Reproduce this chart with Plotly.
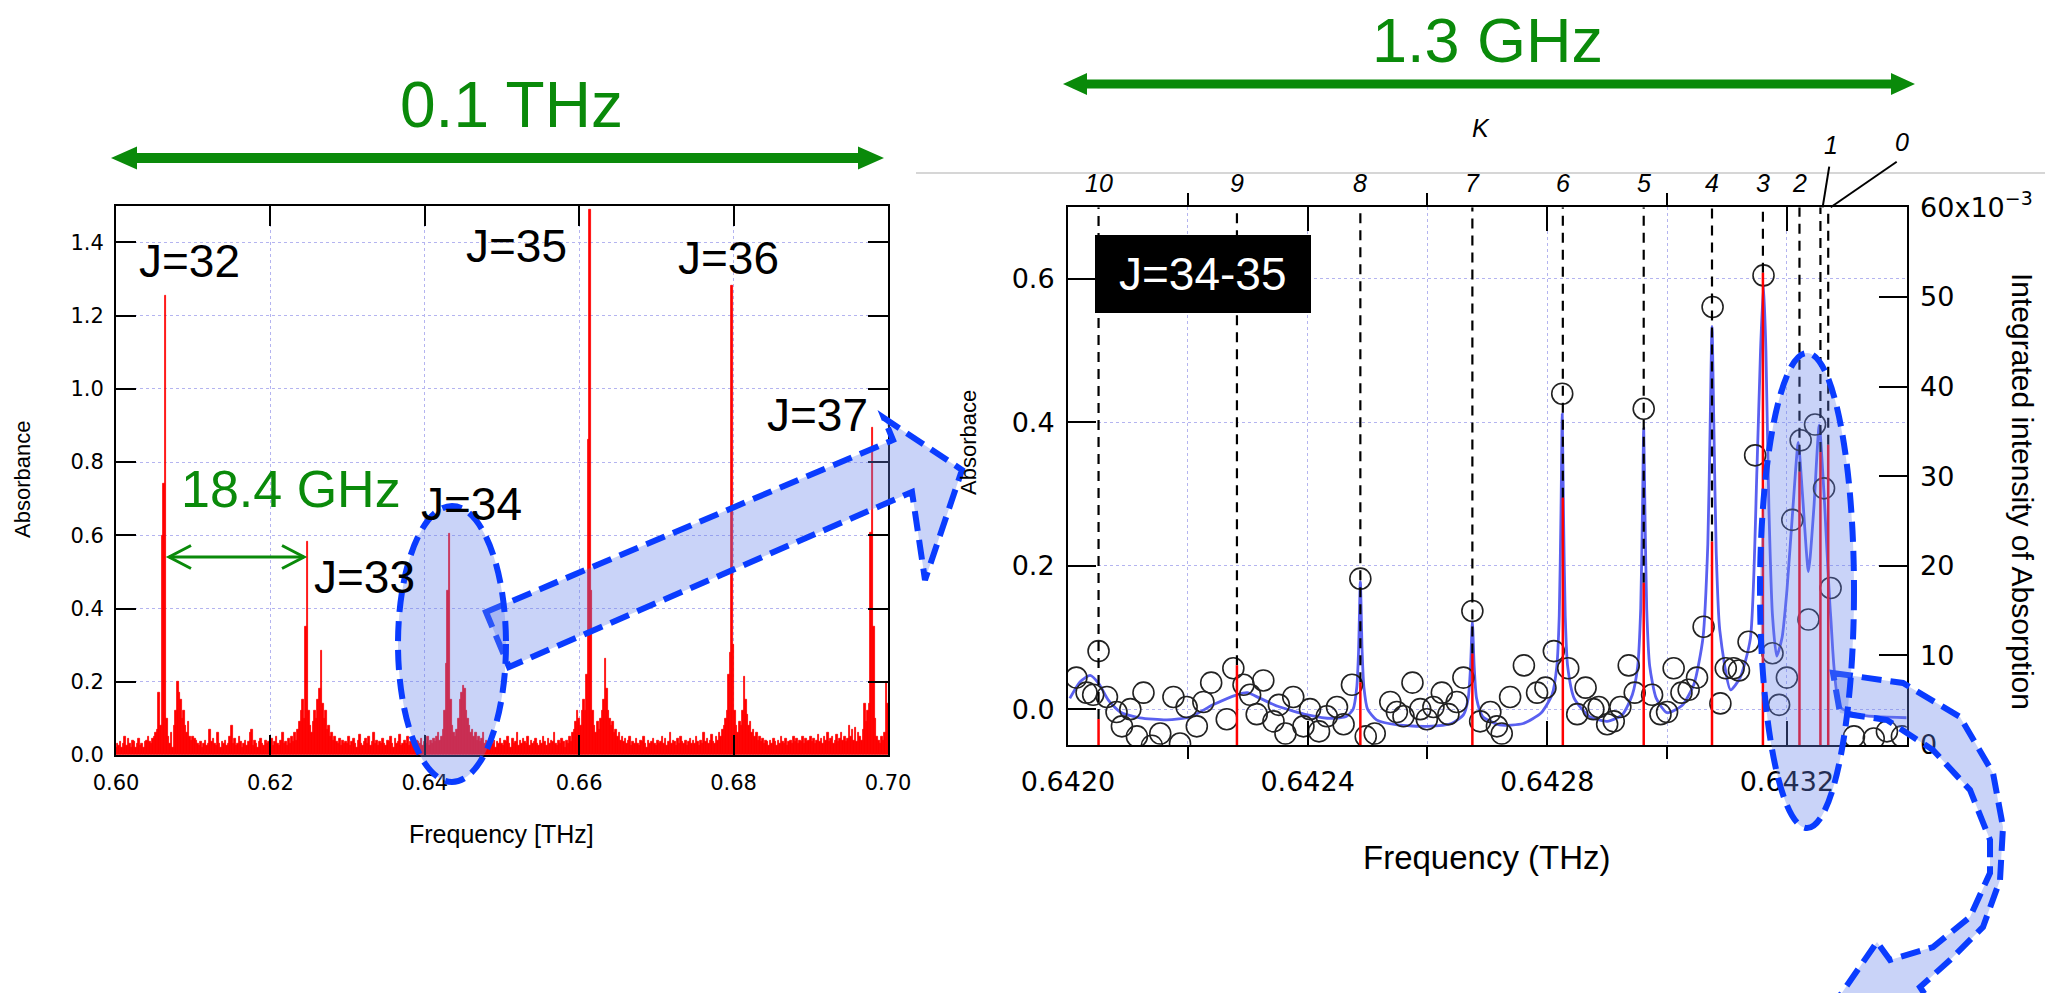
import plotly.graph_objects as go

W, H = 2045, 993

# ---------------- left panel: absorbance spectrum 0.60-0.70 THz ----------------
spec_start = 0.600
spec_step = 0.0002
spec_abs = [
    0.02, 0.03, 0.025, 0.035, 0.02, 0.03, 0.05, 0.025, 0.045, 0.03, 0.02, 0.04, 0.035, 0.02, 0.03, 0.045, 0.025, 0.03, 0.02, 0.035, 0.04, 0.05, 0.035, 0.03, 0.045,
    0.05, 0.06, 0.07, 0.17, 0.08, 0.60, 0.74, 1.255, 0.10, 0.05, 0.03, 0.06, 0.02, 0.08, 0.12, 0.20, 0.17, 0.15, 0.10, 0.12, 0.08, 0.06, 0.09, 0.05, 0.04,
    0.05, 0.045, 0.04, 0.03, 0.025, 0.035, 0.02, 0.03, 0.04, 0.025, 0.03, 0.07, 0.035, 0.045, 0.03, 0.025, 0.06, 0.03, 0.02, 0.035, 0.03, 0.04, 0.025, 0.03, 0.05,
    0.08, 0.03, 0.045, 0.025, 0.03, 0.05, 0.035, 0.02, 0.03, 0.04, 0.025, 0.035, 0.06, 0.07, 0.025, 0.04, 0.03, 0.02, 0.035, 0.045, 0.03, 0.025, 0.04, 0.03, 0.035,
    0.03, 0.045, 0.025, 0.035, 0.05, 0.03, 0.025, 0.04, 0.06, 0.03, 0.035, 0.025, 0.045, 0.03, 0.05, 0.035, 0.06, 0.04, 0.07, 0.09, 0.12, 0.15, 0.10, 0.35, 0.583,
    0.12, 0.08, 0.06, 0.09, 0.12, 0.10, 0.15, 0.18, 0.284, 0.14, 0.10, 0.12, 0.07, 0.08, 0.05, 0.06, 0.04, 0.05, 0.035, 0.03, 0.045, 0.025, 0.04, 0.03, 0.035,
    0.03, 0.05, 0.025, 0.035, 0.045, 0.03, 0.02, 0.04, 0.055, 0.03, 0.025, 0.035, 0.045, 0.03, 0.05, 0.025, 0.035, 0.06, 0.03, 0.04, 0.025, 0.035, 0.03, 0.045, 0.03,
    0.025, 0.04, 0.035, 0.05, 0.03, 0.02, 0.045, 0.03, 0.035, 0.055, 0.025, 0.03, 0.04, 0.03, 0.05, 0.025, 0.035, 0.045, 0.03, 0.02, 0.04, 0.035, 0.03, 0.045, 0.025,
    0.035, 0.03, 0.05, 0.025, 0.04, 0.03, 0.045, 0.035, 0.05, 0.06, 0.04, 0.05, 0.07, 0.12, 0.25, 0.45, 0.605, 0.15, 0.08, 0.06, 0.05, 0.07, 0.10, 0.15, 0.17,
    0.19, 0.18, 0.12, 0.10, 0.08, 0.06, 0.07, 0.05, 0.06, 0.04, 0.05, 0.035, 0.045, 0.06, 0.03, 0.04, 0.035, 0.025, 0.045, 0.03, 0.04, 0.02, 0.035, 0.03, 0.045,
    0.03, 0.025, 0.04, 0.035, 0.05, 0.03, 0.02, 0.045, 0.03, 0.035, 0.06, 0.025, 0.04, 0.03, 0.045, 0.035, 0.03, 0.05, 0.025, 0.04, 0.03, 0.035, 0.045, 0.03, 0.025,
    0.04, 0.03, 0.05, 0.035, 0.025, 0.045, 0.03, 0.04, 0.035, 0.06, 0.03, 0.025, 0.04, 0.03, 0.045, 0.035, 0.02, 0.04, 0.03, 0.05, 0.035, 0.06, 0.07, 0.09, 0.12,
    0.10, 0.08, 0.12, 0.15, 0.12, 0.22, 0.86, 1.488, 0.45, 0.12, 0.08, 0.06, 0.09, 0.07, 0.10, 0.12, 0.15, 0.264, 0.18, 0.12, 0.10, 0.08, 0.09, 0.06, 0.07,
    0.05, 0.06, 0.04, 0.05, 0.035, 0.045, 0.03, 0.04, 0.05, 0.025, 0.035, 0.03, 0.045, 0.03, 0.025, 0.04, 0.035, 0.05, 0.03, 0.02, 0.04, 0.03, 0.035, 0.045, 0.03,
    0.025, 0.04, 0.03, 0.035, 0.05, 0.03, 0.045, 0.025, 0.035, 0.06, 0.03, 0.04, 0.035, 0.025, 0.045, 0.03, 0.05, 0.035, 0.03, 0.04, 0.025, 0.035, 0.045, 0.03, 0.04,
    0.03, 0.05, 0.035, 0.025, 0.04, 0.03, 0.06, 0.035, 0.045, 0.03, 0.04, 0.055, 0.035, 0.03, 0.05, 0.04, 0.06, 0.05, 0.07, 0.08, 0.10, 0.12, 0.22, 0.28, 1.281,
    0.30, 0.12, 0.08, 0.06, 0.09, 0.08, 0.12, 0.214, 0.15, 0.11, 0.08, 0.09, 0.06, 0.07, 0.05, 0.06, 0.04, 0.05, 0.035, 0.045, 0.03, 0.04, 0.035, 0.025, 0.04,
    0.03, 0.045, 0.035, 0.025, 0.04, 0.03, 0.05, 0.035, 0.03, 0.045, 0.025, 0.035, 0.04, 0.03, 0.05, 0.035, 0.045, 0.03, 0.04, 0.035, 0.05, 0.03, 0.045, 0.035, 0.04,
    0.05, 0.035, 0.045, 0.03, 0.04, 0.055, 0.035, 0.045, 0.03, 0.05, 0.04, 0.06, 0.035, 0.045, 0.05, 0.03, 0.04, 0.055, 0.035, 0.045, 0.06, 0.04, 0.05, 0.035, 0.045,
    0.08, 0.05, 0.07, 0.04, 0.075, 0.035, 0.06, 0.05, 0.04, 0.07, 0.14, 0.09, 0.12, 0.14, 0.606, 0.894, 0.35, 0.10, 0.05, 0.04, 0.03, 0.05, 0.04, 0.06, 0.20,
    0.14,
]
spec_freq = [round(spec_start + i * spec_step, 5) for i in range(len(spec_abs))]

left_xticks = [0.60, 0.62, 0.64, 0.66, 0.68, 0.70]
left_yticks = [0.0, 0.2, 0.4, 0.6, 0.8, 1.0, 1.2, 1.4]

# ---------------- right panel: J=34-35 K structure ----------------
k_numbers = [10, 9, 8, 7, 6, 5, 4, 3, 2, 1, 0]
k_freq = [0.642051, 0.642282, 0.642488, 0.642675, 0.642826, 0.642961,
          0.643075, 0.643160, 0.643221, 0.643256, 0.643269]
k_intensity = [2.9, 8.9, 7.0, 10.2, 27.6, 18.1, 22.7, 52.7, 30.5, 32.7, 33.5]  # x10^-3

meas_freq = [
    0.642014, 0.642031, 0.642042, 0.642051, 0.642065, 0.642081, 0.642090, 0.642104, 0.642115, 0.642126,
    0.642140, 0.642154, 0.642176, 0.642187, 0.642198, 0.642215, 0.642226, 0.642239, 0.642265, 0.642276,
    0.642293, 0.642304, 0.642315, 0.642326, 0.642343, 0.642352, 0.642363, 0.642376, 0.642393, 0.642404,
    0.642419, 0.642432, 0.642449, 0.642460, 0.642474, 0.642488, 0.642497, 0.642512, 0.642538, 0.642549,
    0.642560, 0.642575, 0.642588, 0.642599, 0.642610, 0.642624, 0.642635, 0.642649, 0.642660, 0.642675,
    0.642688, 0.642705, 0.642716, 0.642724, 0.642738, 0.642761, 0.642783, 0.642797, 0.642811, 0.642825,
    0.642835, 0.642850, 0.642864, 0.642877, 0.642886, 0.642900, 0.642911, 0.642922, 0.642936, 0.642946,
    0.642961, 0.642975, 0.642989, 0.643000, 0.643011, 0.643024, 0.643036, 0.643050, 0.643061, 0.643076,
    0.643089, 0.643098, 0.643111, 0.643120, 0.643136, 0.643147, 0.643161, 0.643176, 0.643187, 0.643200,
    0.643209, 0.643223, 0.643236, 0.643247, 0.643262, 0.643273, 0.643312, 0.643345, 0.643367, 0.643392,
]
meas_abs = [
    0.044, 0.023, 0.020, 0.081, 0.017, -0.004, -0.024, 0.000, -0.038, 0.023,
    -0.051, -0.034, 0.017, -0.048, 0.003, -0.024, 0.010, 0.037, -0.014, 0.057,
    0.034, 0.020, -0.007, 0.040, -0.017, 0.006, -0.034, 0.017, -0.024, 0.000,
    -0.031, -0.010, 0.003, -0.021, 0.034, 0.182, -0.038, -0.034, 0.010, -0.004,
    -0.010, 0.037, 0.000, -0.014, 0.003, 0.023, -0.007, 0.010, 0.044, 0.137,
    -0.017, -0.004, -0.024, -0.034, 0.017, 0.061, 0.023, 0.030, 0.081, 0.440,
    0.057, -0.007, 0.030, 0.000, 0.003, -0.021, -0.017, 0.003, 0.061, 0.023,
    0.419, 0.020, -0.007, -0.004, 0.057, 0.023, 0.027, 0.044, 0.115, 0.561,
    0.008, 0.057, 0.057, 0.054, 0.094, 0.354, 0.605, 0.078, 0.006, 0.044,
    0.264, 0.375, 0.125, 0.397, 0.308, 0.169, -0.038, -0.041, -0.031, -0.038,
]

fit_freq = [
    0.642003, 0.642020, 0.642037, 0.642052, 0.642067, 0.642087, 0.642120, 0.642165, 0.642204, 0.642242,
    0.642282, 0.642299, 0.642321, 0.642350, 0.642400, 0.642440, 0.642465, 0.642476, 0.642482, 0.642485,
    0.642488, 0.642491, 0.642494, 0.642500, 0.642515, 0.642550, 0.642600, 0.642640, 0.642660, 0.642668,
    0.642672, 0.642675, 0.642678, 0.642682, 0.642692, 0.642720, 0.642760, 0.642790, 0.642808, 0.642816,
    0.642820, 0.642823, 0.642825, 0.642827, 0.642830, 0.642834, 0.642845, 0.642870, 0.642900, 0.642925,
    0.642942, 0.642951, 0.642956, 0.642959, 0.642961, 0.642963, 0.642966, 0.642971, 0.642982, 0.643000,
    0.643025, 0.643045, 0.643060, 0.643068, 0.643072, 0.643075, 0.643078, 0.643082, 0.643088, 0.643106,
    0.643122, 0.643139, 0.643150, 0.643156, 0.643161, 0.643165, 0.643170, 0.643176, 0.643183, 0.643192,
    0.643200, 0.643210, 0.643219, 0.643226, 0.643236, 0.643245, 0.643254, 0.643262, 0.643273, 0.643289,
    0.643320, 0.643400,
]
fit_abs = [
    0.015, 0.038, 0.047, 0.035, 0.013, -0.004, -0.012, -0.015, -0.011, 0.006,
    0.020, 0.023, 0.015, 0.004, -0.008, -0.013, -0.010, 0.000, 0.030, 0.080,
    0.178, 0.080, 0.030, 0.000, -0.015, -0.022, -0.024, -0.020, -0.008, 0.015,
    0.060, 0.122, 0.060, 0.015, -0.010, -0.022, -0.020, -0.005, 0.020, 0.060,
    0.130, 0.280, 0.412, 0.280, 0.130, 0.060, 0.015, -0.010, -0.017, -0.008,
    0.020, 0.060, 0.140, 0.280, 0.392, 0.280, 0.140, 0.060, 0.015, -0.005,
    0.005, 0.035, 0.100, 0.230, 0.400, 0.534, 0.400, 0.220, 0.110, 0.027,
    0.044, 0.098, 0.334, 0.500, 0.593, 0.500, 0.280, 0.130, 0.074, 0.100,
    0.165, 0.280, 0.372, 0.300, 0.192, 0.280, 0.396, 0.300, 0.131, 0.003,
    -0.008, -0.012,
]

right_xticks = [0.6420, 0.6424, 0.6428, 0.6432]
right_yticks = [0.0, 0.2, 0.4, 0.6]
right_y2ticks = [0, 10, 20, 30, 40, 50, 60]
right_y2text = ["0", "10", "20", "30", "40", "50", "60x10<sup>−3</sup>"]

# ---------------- geometry helpers (pixel -> paper) ----------------
def px(x):
    return x / W


def py(y):
    return 1 - y / H


def path(points, close=True):
    s = "M " + " L ".join(f"{px(x):.5f},{py(y):.5f}" for x, y in points)
    return s + (" Z" if close else "")


GREEN = "#0a8a0a"
BLUE = "#0a3cff"
HALO = "rgba(100,130,235,0.35)"
GRID = "#b4b4f0"
TICKFONT = "DejaVu Sans"
TEXTFONT = "Liberation Sans, Arial, sans-serif"

fig = go.Figure()

fig.add_trace(go.Bar(
    x=spec_freq, y=spec_abs, width=spec_step,
    marker=dict(color="#ff0000", line=dict(color="#ff0000", width=0.8)),
    xaxis="x", yaxis="y", hoverinfo="skip",
))

# fitted profile
fig.add_trace(go.Scatter(
    x=fit_freq, y=fit_abs, mode="lines",
    line=dict(color="#5a60f0", width=2.8, shape="spline", smoothing=0.6),
    xaxis="x2", yaxis="y2", hoverinfo="skip",
))

# measured points
fig.add_trace(go.Scatter(
    x=meas_freq, y=meas_abs, mode="markers",
    marker=dict(symbol="circle-open", size=21, color="#222222", line=dict(width=1.6)),
    xaxis="x2", yaxis="y2", hoverinfo="skip",
))

# K-component markers: dashed guides from each stick to the top frame
dash_x, dash_y, stick_x, stick_y = [], [], [], []
for f, v in zip(k_freq, k_intensity):
    dash_x += [f, f, None]
    dash_y += [v, 60, None]
    stick_x += [f, f, None]
    stick_y += [0, v, None]

fig.add_trace(go.Scatter(
    x=dash_x, y=dash_y, mode="lines",
    line=dict(color="black", width=2.2, dash="10px,7px"),
    xaxis="x2", yaxis="y3", hoverinfo="skip",
))
fig.add_trace(go.Scatter(
    x=stick_x, y=stick_y, mode="lines",
    line=dict(color="#ff0000", width=2.5),
    xaxis="x2", yaxis="y3", hoverinfo="skip",
))

axis_common = dict(
    automargin=False,
    showline=True, linecolor="black", linewidth=2,
    ticks="inside", tickcolor="black", tickwidth=2,
    showgrid=True, gridcolor=GRID, griddash="dot", gridwidth=1,
    zeroline=False,
)

fig.update_layout(
    width=W, height=H,
    margin=dict(l=0, r=0, t=0, b=0, autoexpand=False),
    paper_bgcolor="white", plot_bgcolor="white",
    showlegend=False, bargap=0,
    xaxis=dict(
        axis_common, domain=[px(116), px(888)], range=[0.6, 0.7], anchor="y",
        tickvals=left_xticks, ticktext=[f"{v:.2f}" for v in left_xticks],
        ticklen=20, mirror="ticks",
        tickfont=dict(family=TICKFONT, size=21, color="black"), ticklabelstandoff=8,
    ),
    yaxis=dict(
        axis_common, domain=[py(755), py(205.7)], range=[0, 1.5], anchor="x",
        tickvals=left_yticks, ticktext=[f"{v:.1f}" for v in left_yticks],
        ticklen=20, mirror="ticks",
        tickfont=dict(family=TICKFONT, size=21, color="black"), ticklabelstandoff=6,
    ),
    xaxis2=dict(
        axis_common, domain=[px(1068), px(1906.7)], range=[0.6420, 0.6434], anchor="y2",
        tickvals=right_xticks, ticktext=[f"{v:.4f}" for v in right_xticks],
        ticklen=24, mirror="ticks",
        minor=dict(tickvals=[0.6422, 0.6426, 0.6430], ticklen=12, tickwidth=2,
                   tickcolor="black", showgrid=True, gridcolor=GRID, griddash="dot"),
        tickfont=dict(family=TICKFONT, size=27, color="black"), ticklabelstandoff=12,
    ),
    yaxis2=dict(
        axis_common, domain=[py(745), py(207.3)], range=[-0.05, 0.70], anchor="x2",
        tickvals=right_yticks, ticktext=[f"{v:.1f}" for v in right_yticks],
        ticklen=28,
        tickfont=dict(family=TICKFONT, size=27, color="black"), ticklabelstandoff=6,
    ),
    yaxis3=dict(
        automargin=False,
        showline=True, linecolor="black", linewidth=2, zeroline=False, showgrid=False,
        ticks="inside", tickcolor="black", tickwidth=2, ticklen=28,
        overlaying="y2", side="right", anchor="x2", range=[0, 60],
        tickvals=right_y2ticks, ticktext=right_y2text,
        tickfont=dict(family=TICKFONT, size=27, color="black"), ticklabelstandoff=6,
    ),
)

shapes = []

# green span arrows
def block_arrow(x0, x1, yc, half_body, half_head, head_len):
    return path([
        (x0, yc), (x0 + head_len, yc - half_head), (x0 + head_len, yc - half_body),
        (x1 - head_len, yc - half_body), (x1 - head_len, yc - half_head), (x1, yc),
        (x1 - head_len, yc + half_head), (x1 - head_len, yc + half_body),
        (x0 + head_len, yc + half_body), (x0 + head_len, yc + half_head),
    ])


shapes.append(dict(type="path", xref="paper", yref="paper", path=block_arrow(111, 884, 158, 5, 11.5, 26),
                   fillcolor=GREEN, line=dict(width=0)))
shapes.append(dict(type="path", xref="paper", yref="paper", path=block_arrow(1063, 1915, 84, 4.5, 11, 24),
                   fillcolor=GREEN, line=dict(width=0)))

# 18.4 GHz spacing arrow with open heads
shapes.append(dict(type="line", xref="paper", yref="paper", x0=px(169), x1=px(304), y0=py(557), y1=py(557),
                   line=dict(color=GREEN, width=3)))
shapes.append(dict(type="path", xref="paper", yref="paper",
                   path=path([(191, 545.5), (169, 557), (191, 568.5)], close=False),
                   line=dict(color=GREEN, width=3)))
shapes.append(dict(type="path", xref="paper", yref="paper",
                   path=path([(282, 545.5), (304, 557), (282, 568.5)], close=False),
                   line=dict(color=GREEN, width=3)))

# thin separator line behind the K labels
shapes.append(dict(type="line", xref="paper", yref="paper", x0=px(916), x1=1, y0=py(173), y1=py(173),
                   line=dict(color="#c8c8c8", width=1.5), layer="below"))

# J=34-35 tag
shapes.append(dict(type="rect", xref="paper", yref="paper", x0=px(1095), x1=px(1311), y0=py(313), y1=py(235),
                   fillcolor="black", line=dict(width=0), layer="above"))

# leader lines for the K=1 and K=0 labels
top_frame = py(207.3)
for f, dx0, dx1, dy in [(k_freq[9], 2.2, 8.8, 40.6), (k_freq[10], 2.5, 68.5, 45.6)]:
    shapes.append(dict(type="line", xref="x2", xsizemode="pixel", xanchor=f, x0=dx0, x1=dx1,
                       yref="paper", ysizemode="pixel", yanchor=top_frame, y0=0, y1=dy,
                       line=dict(color="black", width=2)))

# highlight ellipses and connecting arrows
dash_line = dict(color=BLUE, width=6, dash="20px,9px")
shapes.append(dict(type="path", xref="paper", yref="paper", layer="above",
                   path=path([(486, 612), (893, 440), (884, 418), (962, 470), (925, 580), (912, 492), (509, 667)]),
                   fillcolor=HALO, line=dash_line))
shapes.append(dict(type="circle", xref="paper", yref="paper", layer="above",
                   x0=px(398), x1=px(506), y0=py(782), y1=py(506),
                   fillcolor=HALO, line=dash_line))
shapes.append(dict(type="path", xref="paper", yref="paper", layer="above",
                   path=path([(1833, 673), (1903, 683), (1960, 717), (1993, 773), (2003, 827), (2000, 880),
                              (1983, 927), (1950, 960), (1920, 987), (1935, 1010), (1830, 1010), (1877, 942),
                              (1890, 960), (1933, 947), (1970, 917), (1990, 873), (1990, 840), (1970, 790),
                              (1933, 750), (1887, 720), (1840, 713)]),
                   fillcolor=HALO, line=dash_line))
shapes.append(dict(type="circle", xref="paper", yref="paper", layer="above",
                   x0=px(1760), x1=px(1854), y0=py(828), y1=py(353),
                   fillcolor=HALO, line=dash_line))

fig.update_layout(shapes=shapes)

ann = []


def text(x, y, s, size, color="black", family=TEXTFONT, angle=0, **kw):
    ann.append(dict(x=px(x), y=py(y), xref="paper", yref="paper", text=s, showarrow=False,
                    font=dict(family=family, size=size, color=color), textangle=angle,
                    xanchor="center", yanchor="middle", **kw))


# spans
text(512, 105, "0.1 THz", 64, GREEN)
text(1487, 40, "1.3 GHz", 63, GREEN)

# left panel labels
for lab, x, y in [("J=32", 189, 261), ("J=35", 516, 246), ("J=36", 728, 258), ("J=37", 817, 415),
                  ("J=34", 471, 504), ("J=33", 364, 577)]:
    text(x, y, lab, 46)
text(291, 489, "18.4 GHz", 52, GREEN)
text(22, 480, "Absorbance", 22, angle=-90)
text(501, 834, "Frequency [THz]", 25)

# right panel labels
text(1203, 274, "J=34-35", 46, "white")
text(968, 443, "Absorbace", 22, angle=-90)
text(1487, 857, "Frequency (THz)", 33)
text(2023, 491, "Integrated intensity of Absorption", 30, angle=90)
text(1481, 128, "<i>K</i>", 25)

for k, f in zip(k_numbers, k_freq):
    if k >= 2:
        ann.append(dict(x=f, xref="x2", y=top_frame, yref="paper", yshift=24, text=f"<i>{k}</i>",
                        showarrow=False, xanchor="center", yanchor="middle",
                        font=dict(family=TEXTFONT, size=25, color="black")))
for k, f, dx, dy in [(1, k_freq[9], 10.5, 62.3), (0, k_freq[10], 74.2, 65.6)]:
    ann.append(dict(x=f, xref="x2", y=top_frame, yref="paper", xshift=dx, yshift=dy, text=f"<i>{k}</i>",
                    showarrow=False, xanchor="center", yanchor="middle",
                    font=dict(family=TEXTFONT, size=25, color="black")))

fig.update_layout(annotations=ann)

fig.write_html("out.html")
